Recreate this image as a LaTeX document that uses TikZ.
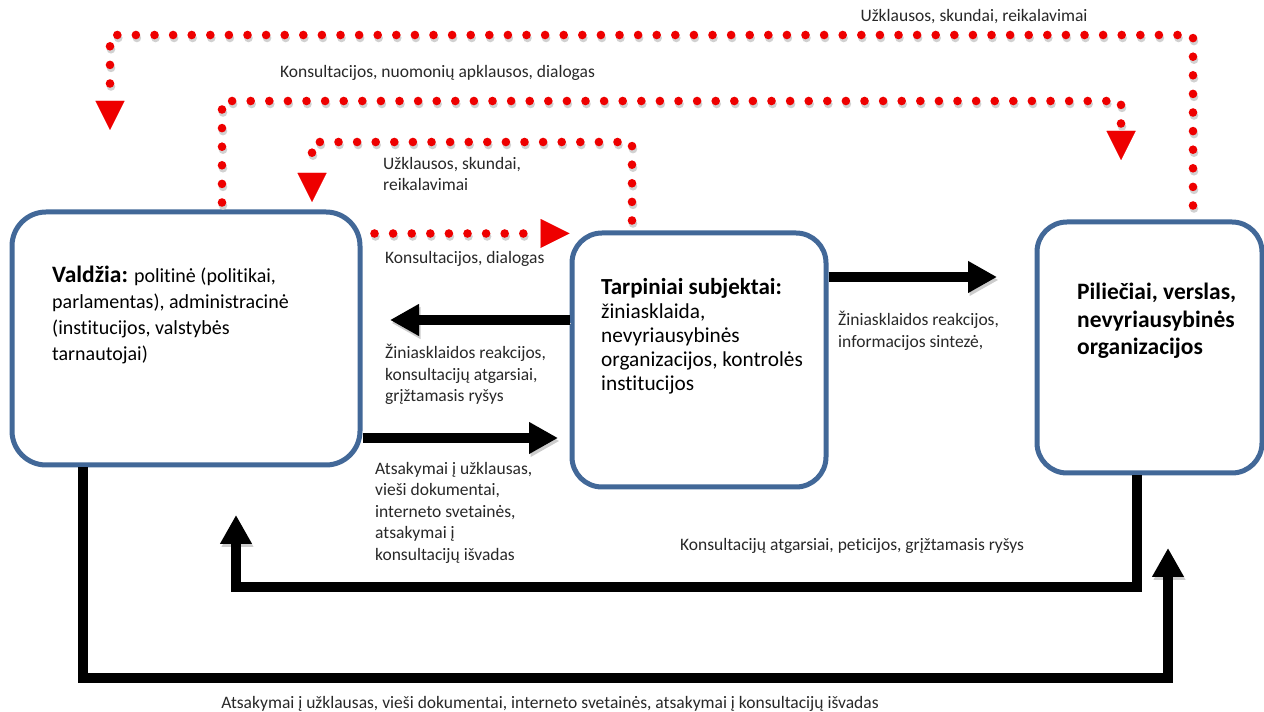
\documentclass[tikz,border=0pt]{standalone}
\usepackage{fontspec}
\setmainfont{Carlito}[Ligatures=NoCommon]
\usetikzlibrary{arrows.meta,calc,decorations.markings}
\definecolor{boxblue}{RGB}{66,104,152}
\definecolor{dotred}{RGB}{238,0,0}
\definecolor{txt}{RGB}{40,40,40}
\begin{document}
\begin{tikzpicture}[x=1pt,y=1pt,
  box/.style={draw=boxblue, line width=5, rounded corners=34, fill=white, inner sep=0},
  boxtext/.style={anchor=north west, inner sep=0, align=left, font=\fontsize{20}{26}\selectfont, text=black},
  lbl/.style={anchor=north west, inner sep=0, align=left, font=\fontsize{17.5}{21.5}\selectfont, text=txt},
  reddot/.style={draw=dotred, line width=0.01pt, dash pattern=on 0pt off 5000pt,
    -{Triangle[length=29pt,width=29pt,fill=dotred]},
    postaction={decorate},
    decoration={markings, mark=between positions 0 and -36pt step 18.6pt with
      {\pgftransformresetnontranslations
       \fill[black!18] (1,-3) circle (4.3);
       \fill[dotred] (0,0) circle (4.3);}}},
  blackarrow/.style={draw=black, line width=10,
    -{Triangle[length=29pt,width=30pt]},
    preaction={draw=black!20, transform canvas={shift={(1.5,-3)}}}}
]
\useasboundingbox (0,0) rectangle (1264,712);

% boxes
\node[box, minimum width=348, minimum height=253] (A) at (186,373.5) {};
\node[box, minimum width=254, minimum height=254, rounded corners=30] (B) at (699,352) {};
\node[box, minimum width=225, minimum height=251, rounded corners=30] (C) at (1149.5,364.5) {};

% box texts
\node[boxtext] (tA) at (52,446) {{\bfseries\fontsize{23.5}{26}\selectfont Valdžia:} politinė (politikai,\\parlamentas), administracinė\\(institucijos, valstybės\\tarnautojai)};
\node[boxtext, font=\fontsize{21.3}{24}\selectfont] (tB) at (601,434) {{\bfseries\fontsize{23}{24}\selectfont Tarpiniai subjektai:}\\žiniasklaida,\\nevyriausybinės\\organizacijos, kontrolės\\institucijos};
\node[boxtext, font=\bfseries\fontsize{23.5}{27.5}\selectfont] (tC) at (1077,429) {Piliečiai, verslas,\\nevyriausybinės\\organizacijos};

% free ends
\coordinate (c1) at (110,677);
\coordinate (t1) at (110,582);
\coordinate (c2) at (1121,611);
\coordinate (t2) at (1121,552);
\coordinate (c3) at (312,570);
\coordinate (t3) at (312,510);
\coordinate (t5) at (390,392);
\coordinate (t6) at (558,274);
\coordinate (t7) at (997,435);
\coordinate (c8) at (236,125);
\coordinate (t8) at (236,197);
\coordinate (c9) at (1168,34);
\coordinate (t9) at (1168,164);

% red dotted connectors
\draw[reddot] ([xshift=43.5,yshift=14]C.north) |- (c1) -- (t1);
\draw[reddot] ([xshift=36,yshift=7]A.north) |- (c2) -- (t2);
\draw[reddot] ([xshift=-67,yshift=10]B.north) |- (c3) -- (t3);
\draw[reddot] ([xshift=12,yshift=-24]A.north east) -- ([yshift=-3]B.north west);

% black connectors
\draw[blackarrow] ([yshift=40]B.west) -- (t5);
\draw[blackarrow] ([yshift=-99.5]A.east) -- (t6);
\draw[blackarrow] ([yshift=83]B.east) -- (t7);
\draw[blackarrow] ([xshift=-12.5]C.south) |- (c8) -- (t8);
\draw[blackarrow] ([xshift=-103]A.south) |- (c9) -- (t9);

% labels
\node[lbl, anchor=north] (l1) at (974,703) {Užklausos, skundai, reikalavimai};
\node[lbl] (l2) at (280,647) {Konsultacijos, nuomonių apklausos, dialogas};
\node[lbl] (l3) at (383,555) {Užklausos, skundai,\\reikalavimai};
\node[lbl] (l4) at (385,461) {Konsultacijos, dialogas};
\node[lbl] (l5) at (385,368) {Žiniasklaidos reakcijos,\\konsultacijų atgarsiai,\\grįžtamasis ryšys};
\node[lbl] (l6) at (375,250) {Atsakymai į užklausas,\\vieši dokumentai,\\interneto svetainės,\\atsakymai į\\konsultacijų išvadas};
\node[lbl] (l7) at (838,401) {Žiniasklaidos reakcijos,\\informacijos sintezė,};
\node[lbl, anchor=north] (l8) at (852,174) {Konsultacijų atgarsiai, peticijos, grįžtamasis ryšys};
\node[lbl, anchor=north] (l9) at (550,16) {Atsakymai į užklausas, vieši dokumentai, interneto svetainės, atsakymai į konsultacijų išvadas};
\end{tikzpicture}
\end{document}
